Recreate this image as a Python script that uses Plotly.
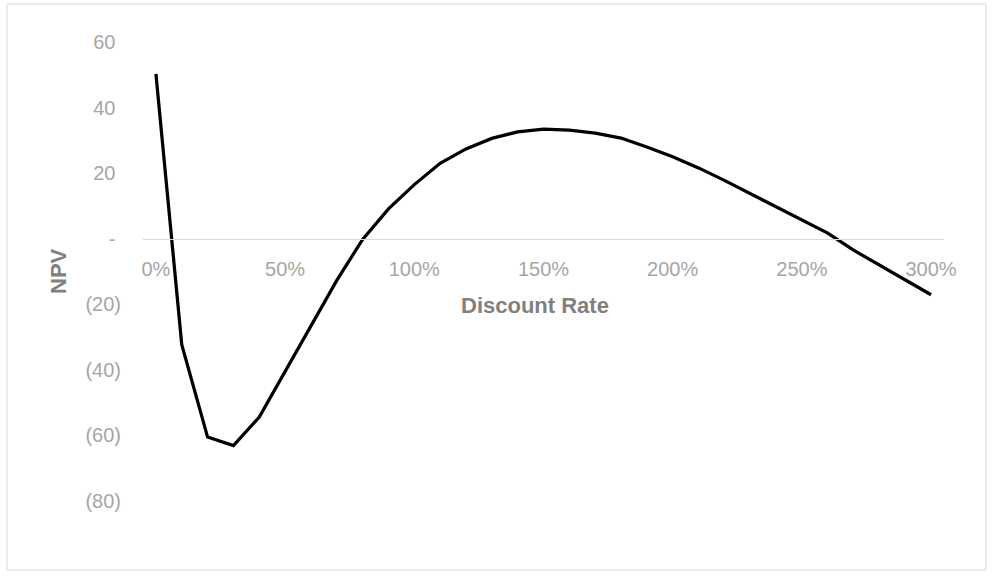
import plotly.graph_objects as go

# Data
rates = [0.0, 0.1, 0.2, 0.3, 0.4, 0.5, 0.6, 0.7, 0.8, 0.9, 1.0,
         1.1, 1.2, 1.3, 1.4, 1.5, 1.6, 1.7, 1.8, 1.9, 2.0,
         2.1, 2.2, 2.3, 2.4, 2.5, 2.6, 2.7, 2.8, 2.9, 3.0]
npv = [50.3, -32.3, -60.5, -63.1, -54.4, -40.5, -26.3, -12.7, -0.2, 9.1, 16.5,
       23.0, 27.4, 30.6, 32.6, 33.4, 33.1, 32.2, 30.7, 28.0, 25.0,
       21.6, 17.8, 13.8, 9.8, 5.8, 1.7, -3.5, -8.0, -12.6, -17.1]

x_tick_vals = [0.0, 0.5, 1.0, 1.5, 2.0, 2.5, 3.0]
x_tick_text = ["0%", "50%", "100%", "150%", "200%", "250%", "300%"]
y_tick_vals = [60, 40, 20, 0, -20, -40, -60, -80]
y_tick_text = ["60\u00a0", "40\u00a0", "20\u00a0", "-\u00a0", "(20)", "(40)", "(60)", "(80)"]

x_range = [-0.05, 3.05]
y_range = [-80, 60]

W, H = 993, 577
ML, MR, MT, MB = 143, 49, 42, 76
pw = W - ML - MR
ph = H - MT - MB

fig = go.Figure()
fig.add_trace(go.Scatter(x=rates, y=npv, mode="lines",
                         line=dict(color="black", width=3.25),
                         showlegend=False, hoverinfo="skip"))

tick_font = dict(family="Liberation Sans, Arial, sans-serif", size=20, color="#a6a6a6")
title_font = dict(family="Liberation Sans, Arial, sans-serif", size=22, color="#808080")

fig.update_layout(
    width=W, height=H,
    margin=dict(l=ML, r=MR, t=MT, b=MB),
    paper_bgcolor="white", plot_bgcolor="white",
    xaxis=dict(range=x_range, tickvals=x_tick_vals, ticktext=x_tick_text,
               tickfont=tick_font, showgrid=False, zeroline=False,
               showline=True, linecolor="#d9d9d9", linewidth=1,
               ticks="outside", ticklen=12, tickcolor="rgba(0,0,0,0)",
               anchor="free",
               position=(0 - y_range[0]) / (y_range[1] - y_range[0])),
    yaxis=dict(range=y_range, tickvals=y_tick_vals, ticktext=y_tick_text,
               tickfont=tick_font, showgrid=False, zeroline=False,
               showline=False, ticks="outside", ticklen=17,
               tickcolor="rgba(0,0,0,0)"),
)

# Axis titles
fig.add_annotation(text="<b>Discount Rate</b>", xref="paper", yref="paper",
                   x=(535 - ML) / pw, y=(H - MB - 305) / ph,
                   showarrow=False, font=title_font, xanchor="center", yanchor="middle")
fig.add_annotation(text="<b>NPV</b>", xref="paper", yref="paper",
                   x=(58 - ML) / pw, y=(H - MB - 271) / ph, textangle=-90,
                   showarrow=False, font=title_font, xanchor="center", yanchor="middle")

# Chart border
fig.add_shape(type="rect", xref="paper", yref="paper",
              x0=(7 - ML) / pw, x1=(986 - ML) / pw,
              y0=(H - MB - 570) / ph, y1=(H - MB - 4) / ph,
              line=dict(color="#d9d9d9", width=1), fillcolor="rgba(0,0,0,0)",
              layer="below")

fig.write_html("out.html", config={"displayModeBar": False},
               post_script="document.body.style.margin='0';document.body.style.padding='0';")
